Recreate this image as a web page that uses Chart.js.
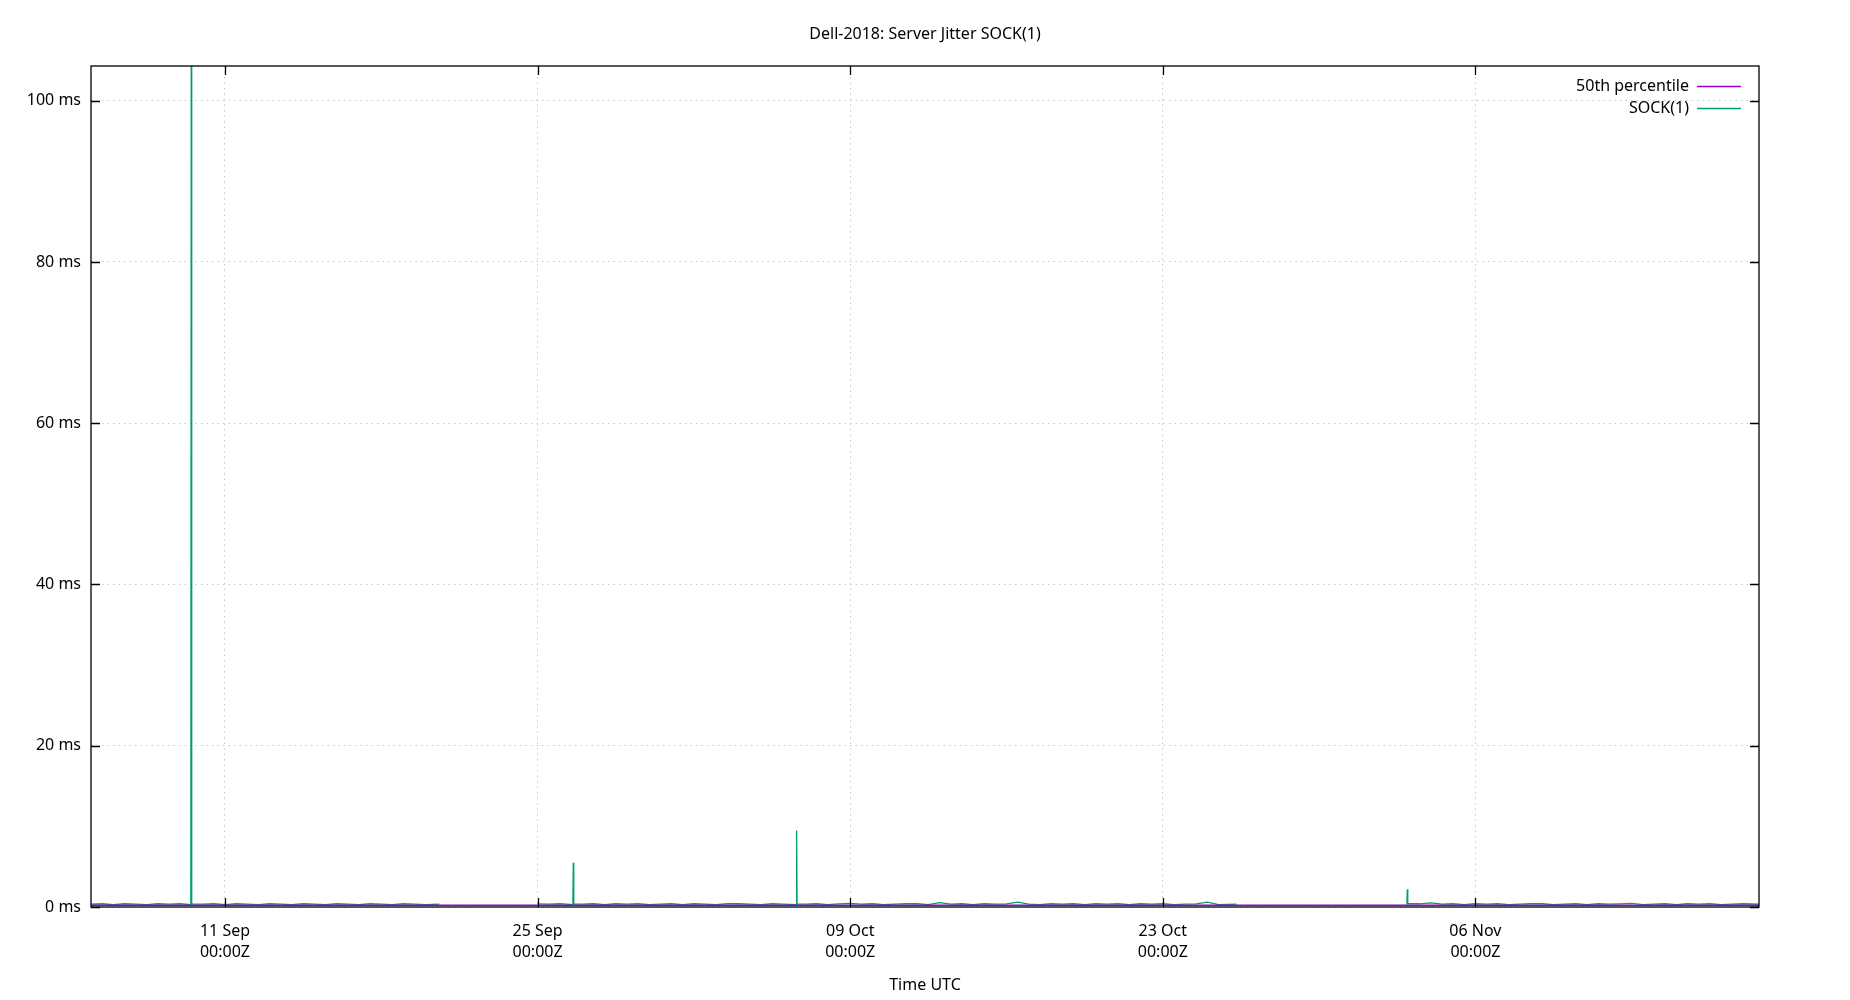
<!DOCTYPE html>
<html><head><meta charset="utf-8">
<script src="https://cdn.jsdelivr.net/npm/chart.js@4/dist/chart.umd.min.js"></script>
<style>html,body{margin:0;background:#fff}#c{display:block}</style>
</head><body>
<div style="width:1850px;height:1000px"><canvas id="c"></canvas></div>
<script>
// x values are days since 05 Sep 2018 00:00Z
const title = "Dell-2018: Server Jitter SOCK(1)";
const xTickDays = [6, 20, 34, 48, 62];
const xTickLabels = [["11 Sep","00:00Z"],["25 Sep","00:00Z"],["09 Oct","00:00Z"],["23 Oct","00:00Z"],["06 Nov","00:00Z"]];
const yTicks = [0,20,40,60,80,100];
const p50Days = [0, 74.7];
const p50Vals = [0.22, 0.22];
const sockSeg1Days = [0,0.5,1,1.5,2,2.5,3,3.5,4, 4.47,4.49,4.5,4.52, 5,5.5,6,6.5,7,7.5,8,8.5,9,9.5,10,10.5,11,11.5,12,12.5,13,13.5,14,14.5,15,15.6];
const sockSeg1Vals = [0.35,0.4,0.3,0.4,0.35,0.3,0.4,0.35,0.4, 0.3,110,27,0.4, 0.35,0.4,0.3,0.4,0.35,0.3,0.4,0.35,0.3,0.4,0.35,0.3,0.4,0.35,0.3,0.4,0.35,0.3,0.4,0.35,0.3,0.35];
const sockSeg2Days = [20,20.5,21, 21.58,21.6,21.62, 22,22.5,23,23.5,24,24.5,25,25.5,26,26.5,27,27.5,28,28.5,29,29.5,30,30.5,31, 31.58,31.6,31.62, 32,32.5,33,33.5,34,34.5,35,35.5,36,36.5,37,37.5,38,38.5,39,39.5,40,40.5,41,41.5,42,42.5,43,43.5,44,44.5,45,45.5,46,46.5,47,47.5,48,48.5,49,49.5,50,50.5,51.3];
const sockSeg2Vals = [0.4,0.35,0.4, 0.3,5.5,0.4, 0.35,0.4,0.3,0.4,0.35,0.4,0.3,0.35,0.4,0.3,0.4,0.35,0.3,0.4,0.4,0.35,0.3,0.4,0.35, 0.3,9.5,0.4, 0.35,0.4,0.3,0.4,0.45,0.35,0.4,0.3,0.35,0.4,0.4,0.3,0.55,0.35,0.4,0.3,0.4,0.35,0.4,0.6,0.35,0.3,0.4,0.35,0.4,0.3,0.4,0.35,0.4,0.3,0.4,0.35,0.4,0.3,0.35,0.4,0.6,0.3,0.35];
const sockSeg3Days = [58.93,58.95,58.97, 59.5,60,60.5,61,61.5,62,62.5,63,63.5,64,64.5,65,65.5,66,66.5,67,67.5,68,68.5,69,69.5,70,70.5,71,71.5,72,72.5,73,73.5,74,74.7];
const sockSeg3Vals = [0.3,2.2,0.4, 0.4,0.5,0.35,0.4,0.3,0.4,0.35,0.4,0.3,0.35,0.4,0.4,0.3,0.35,0.4,0.3,0.4,0.35,0.4,0.45,0.3,0.35,0.4,0.3,0.4,0.35,0.4,0.3,0.35,0.4,0.35];
const seg = (xs, ys) => xs.map((x,i)=>({x, y: ys[i]}));
const GAP = {x:NaN, y:null};
const sockPts = [...seg(sockSeg1Days,sockSeg1Vals), {x:17,y:null}, ...seg(sockSeg2Days,sockSeg2Vals), {x:55,y:null}, ...seg(sockSeg3Days,sockSeg3Vals)];
const FONT = "'Noto Sans', 'Open Sans', sans-serif";
const deco = {
  id:'deco',
  afterDraw(ch){
    const {ctx, chartArea:a, scales:{x,y}} = ch;
    ctx.save();
    ctx.strokeStyle='#000'; ctx.lineWidth=1.3;
    ctx.strokeRect(a.left, a.top, a.right-a.left, a.bottom-a.top);
    ctx.beginPath();
    yTicks.forEach(v=>{const py=Math.round(y.getPixelForValue(v))+0.5; ctx.moveTo(a.left,py); ctx.lineTo(a.left+9,py); ctx.moveTo(a.right,py); ctx.lineTo(a.right-9,py);});
    xTickDays.forEach(v=>{const px=Math.round(x.getPixelForValue(v))+0.5; ctx.moveTo(px,a.bottom); ctx.lineTo(px,a.bottom-9); ctx.moveTo(px,a.top); ctx.lineTo(px,a.top+9);});
    ctx.stroke();
    ctx.fillStyle='#000'; ctx.font='16px '+FONT; ctx.textAlign='center'; ctx.textBaseline='middle';
    ctx.fillText(title, 925, 34);
    ctx.fillText("Time UTC", 925, 985);
    ctx.textAlign='right';
    const items=[["50th percentile",'#9400d3',86],["SOCK(1)",'#009e73',108]];
    items.forEach(([t,c,yy])=>{ctx.fillText(t,1689,yy); ctx.strokeStyle=c; ctx.lineWidth=1.3; ctx.beginPath(); ctx.moveTo(1697,yy+0.5); ctx.lineTo(1741,yy+0.5); ctx.stroke();});
    ctx.restore();
  }
};
new Chart(document.getElementById('c'), {
  type:'line',
  data:{datasets:[
    {label:'50th percentile', data:seg(p50Days,p50Vals), borderColor:'#9400d3', borderWidth:1.3, pointRadius:0},
    {label:'SOCK(1)', data:sockPts, borderColor:'#009e73', borderWidth:1.3, pointRadius:0, spanGaps:false}
  ]},
  options:{
    responsive:true, maintainAspectRatio:false, animation:false, events:[],
    layout:{padding:{top:66,right:91,left:0,bottom:0}},
    plugins:{legend:{display:false},tooltip:{enabled:false}},
    scales:{
      x:{type:'linear', min:0, max:74.7,
        afterFit(s){s.height=93;},
        afterBuildTicks(s){s.ticks=xTickDays.map(v=>({value:v}));},
        ticks:{autoSkip:false, maxRotation:0, padding:14, color:'#000', font:{family:FONT,size:16,lineHeight:1.3},
          callback:(v)=>xTickLabels[xTickDays.indexOf(v)]},
        grid:{color:'#c8c8c8', lineWidth:1, drawTicks:false, tickLength:0},
        border:{display:false, dash:[1.5,4]}},
      y:{min:0, max:104.3,
        afterFit(s){s.width=91;},
        afterBuildTicks(s){s.ticks=yTicks.map(v=>({value:v}));},
        ticks:{padding:10, color:'#000', font:{family:FONT,size:16}, callback:v=>v+' ms'},
        grid:{color:'#c8c8c8', lineWidth:1, drawTicks:false, tickLength:0},
        border:{display:false, dash:[1.5,4]}}
    }
  },
  plugins:[deco]
});
</script></body></html>
